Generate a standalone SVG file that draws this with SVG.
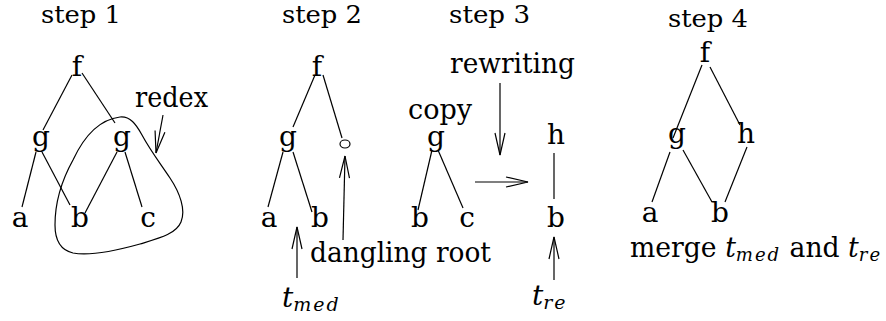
<svg xmlns="http://www.w3.org/2000/svg" width="886" height="321" viewBox="0 0 886 321">
  <style>
    text { font-family: "DejaVu Serif", "Liberation Serif", serif; font-size: 28px; fill: #000; }
    .n { text-anchor: middle; }
    .h { font-size: 25px; }
    .it { font-style: italic; }
    .sub { font-style: italic; font-size: 19px; letter-spacing: 2px; }
    .edge { stroke: #000; stroke-width: 1.2; fill: none; }
    .arr { stroke: #000; stroke-width: 1.2; fill: none; marker-end: url(#vhead); }
  </style>
  <defs>
    <marker id="vhead" markerUnits="userSpaceOnUse" markerWidth="30" markerHeight="16" viewBox="-24 -8 26 16" refX="0" refY="0" orient="auto" overflow="visible">
      <path d="M-22,-5 L0,0 L-22,5" fill="none" stroke="#000" stroke-width="1.2"/>
    </marker>
  </defs>

  <!-- step headings -->
  <g id="headings">
    <text class="h" x="41" y="23" textLength="80" lengthAdjust="spacingAndGlyphs">step 1</text>
    <text class="h" x="282" y="23" textLength="80" lengthAdjust="spacingAndGlyphs">step 2</text>
    <text class="h" x="449" y="23" textLength="81" lengthAdjust="spacingAndGlyphs">step 3</text>
    <text class="h" x="668" y="27" textLength="80" lengthAdjust="spacingAndGlyphs">step 4</text>
  </g>

  <!-- step 1: original term with the redex outlined -->
  <g id="s1-f"><text class="n" x="77" y="76">f</text></g>
  <g id="s1-g1"><text class="n" x="41" y="146">g</text></g>
  <g id="s1-g2"><text class="n" x="122" y="146">g</text></g>
  <g id="s1-a"><text class="n" x="20" y="227">a</text></g>
  <g id="s1-b"><text class="n" x="80" y="227">b</text></g>
  <g id="s1-c"><text class="n" x="148" y="227">c</text></g>
  <g id="s1-redex">
    <path class="edge" d="M120,117 C130,116 136,124 142,135 C150,150 160,163 170,178 C180,193 186,210 181,222 C176,234 160,238 140,244 C115,251 90,256 73,253 C60,250 55,240 55,225 C55,200 63,178 73,160 C80,145 95,120 120,117 Z"/>
    <text x="135" y="107" textLength="73" lengthAdjust="spacingAndGlyphs">redex</text>
  </g>

  <!-- step 2: redex removed, dangling root -->
  <g id="s2-f"><text class="n" x="317" y="76">f</text></g>
  <g id="s2-g"><text class="n" x="288" y="146">g</text></g>
  <g id="s2-hole"><ellipse cx="345" cy="144" rx="5" ry="4" class="edge"/></g>
  <g id="s2-a"><text class="n" x="269" y="227">a</text></g>
  <g id="s2-b"><text class="n" x="320" y="227">b</text></g>
  <g id="s2-labels">
    <text x="310" y="262" textLength="181" lengthAdjust="spacingAndGlyphs">dangling root</text>
    <text x="282" y="307"><tspan class="it">t</tspan><tspan class="sub" dy="4">med</tspan></text>
  </g>

  <!-- step 3: copy of the redex and its rewrite -->
  <g id="s3-copy"><text x="408" y="119" textLength="64" lengthAdjust="spacingAndGlyphs">copy</text></g>
  <g id="s3-g"><text class="n" x="436" y="146">g</text></g>
  <g id="s3-b1"><text class="n" x="420" y="227">b</text></g>
  <g id="s3-c"><text class="n" x="467" y="227">c</text></g>
  <g id="s3-rewriting"><text x="450" y="73" textLength="125" lengthAdjust="spacingAndGlyphs">rewriting</text></g>
  <g id="s3-h"><text class="n" x="556" y="144">h</text></g>
  <g id="s3-b2"><text class="n" x="556" y="227">b</text></g>
  <g id="s3-tre"><text x="532" y="305"><tspan class="it">t</tspan><tspan class="sub" dy="4">re</tspan></text></g>

  <!-- step 4: merged result -->
  <g id="s4-f"><text class="n" x="705" y="62">f</text></g>
  <g id="s4-g"><text class="n" x="677" y="143">g</text></g>
  <g id="s4-h"><text class="n" x="746" y="143">h</text></g>
  <g id="s4-a"><text class="n" x="650" y="222">a</text></g>
  <g id="s4-b"><text class="n" x="720" y="222">b</text></g>
  <g id="s4-caption">
    <text x="630" y="257" textLength="252" lengthAdjust="spacingAndGlyphs">merge <tspan class="it">t</tspan><tspan class="sub" dy="4">med</tspan><tspan dy="-4"> and </tspan><tspan class="it">t</tspan><tspan class="sub" dy="4">re</tspan></text>
  </g>

  <!-- connectors -->
  <g id="connectors">
    <!-- step 1 -->
    <line class="edge" x1="72" y1="75" x2="43" y2="130"/>
    <line class="edge" x1="82" y1="73" x2="115" y2="123"/>
    <line class="edge" x1="36" y1="152" x2="22" y2="207"/>
    <line class="edge" x1="42" y1="152" x2="70" y2="205"/>
    <line class="edge" x1="117" y1="152" x2="85" y2="213"/>
    <line class="edge" x1="125" y1="152" x2="142" y2="207"/>
    <line class="arr" x1="163" y1="115" x2="156" y2="153"/>
    <!-- step 2 -->
    <line class="edge" x1="315" y1="75" x2="293" y2="127"/>
    <line class="edge" x1="323" y1="75" x2="342" y2="138"/>
    <line class="edge" x1="283" y1="152" x2="268" y2="207"/>
    <line class="edge" x1="293" y1="152" x2="312" y2="212"/>
    <line class="arr" x1="343" y1="240" x2="345" y2="156"/>
    <line class="arr" x1="297" y1="278" x2="297" y2="227"/>
    <!-- step 3 -->
    <line class="edge" x1="432" y1="150" x2="418" y2="210"/>
    <line class="edge" x1="438" y1="150" x2="463" y2="208"/>
    <line class="edge" x1="554" y1="153" x2="554" y2="199"/>
    <line class="arr" x1="500" y1="83" x2="500" y2="155"/>
    <line class="arr" x1="475" y1="182" x2="528" y2="182"/>
    <line class="arr" x1="554" y1="280" x2="554" y2="237"/>
    <!-- step 4 -->
    <line class="edge" x1="702" y1="65" x2="673" y2="138"/>
    <line class="edge" x1="710" y1="67" x2="740" y2="125"/>
    <line class="edge" x1="670" y1="152" x2="652" y2="202"/>
    <line class="edge" x1="683" y1="150" x2="712" y2="202"/>
    <line class="edge" x1="747" y1="147" x2="725" y2="202"/>
  </g>
</svg>
